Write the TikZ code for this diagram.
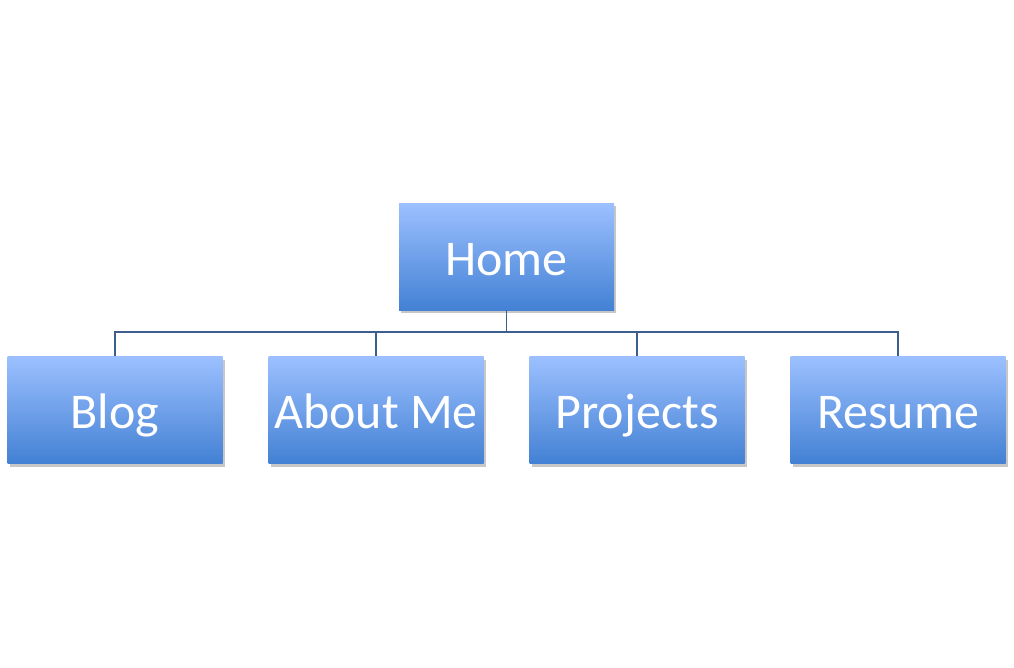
\documentclass[tikz,border=0pt]{standalone}
\usepackage{fontspec}
\setmainfont{Carlito}
\usetikzlibrary{shadows}
\definecolor{boxtop}{HTML}{9CC0FF}
\definecolor{boxbot}{HTML}{4381D4}
\definecolor{wire}{HTML}{3B5E8E}
\tikzset{
  pagebox/.style={rectangle,minimum width=215pt,minimum height=107pt,inner sep=0,
    text height=44pt,text depth=7pt,
    top color=boxtop,bottom color=boxbot,text=white,font=\fontsize{50}{60}\selectfont,
    drop shadow={shadow xshift=2pt,shadow yshift=-3pt,fill=black,opacity=0.22}},
  wireline/.style={draw=wire,line width=1.3pt}
}
\begin{document}
\begin{tikzpicture}[x=1pt,y=-1pt]

  \useasboundingbox (0,0) rectangle (1014,667);

  \node (home) at (506.5,256.5) [pagebox]{Home};

  \node (blog) at (115,410) [pagebox]{Blog};
  \node (about) at (376,410) [pagebox]{About Me};
  \node (proj) at (637,410) [pagebox]{Projects};
  \node (resume) at (898,410) [pagebox]{Resume};

  \coordinate (bus) at (506.5,332);

  \draw[wireline] (home.south) -- (bus);
  \draw[wireline] (blog.north) |- (bus) -| (resume.north);
  \draw[wireline] (about.north) -- (about.north |- bus);
  \draw[wireline] (proj.north) -- (proj.north |- bus);

\end{tikzpicture}
\end{document}
